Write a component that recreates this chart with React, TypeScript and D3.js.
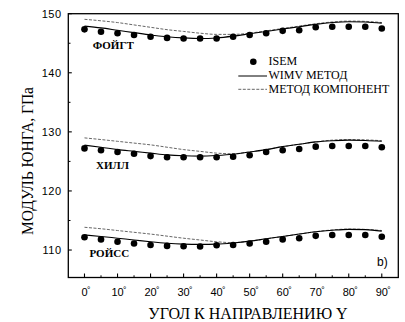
import React, { useEffect, useRef } from 'react';
import * as d3 from 'd3';

// angle to the Y direction, degrees
const angles = [0, 5, 10, 15, 20, 25, 30, 35, 40, 45, 50, 55, 60, 65, 70, 75, 80, 85, 90];

// ISEM points
const voigtIsem = [147.35, 146.95, 146.7, 146.4, 146.1, 145.9, 145.8, 145.8, 145.8, 146.1, 146.4, 146.7, 147.1, 147.2, 147.7, 147.8, 147.8, 147.8, 147.5];
const hillIsem = [127.2, 126.9, 126.6, 126.3, 125.9, 125.7, 125.7, 125.7, 125.7, 125.8, 126.05, 126.6, 126.9, 127.1, 127.5, 127.6, 127.6, 127.6, 127.4];
const reussIsem = [112.15, 111.8, 111.4, 111.1, 110.85, 110.7, 110.65, 110.6, 110.8, 110.85, 111.1, 111.4, 111.8, 112.0, 112.4, 112.55, 112.55, 112.55, 112.25];

// WIMV method (solid)
const voigtWimv = [147.9, 147.6, 147.2, 146.8, 146.4, 146.1, 145.9, 145.8, 145.9, 146.2, 146.6, 147.0, 147.4, 147.8, 148.2, 148.5, 148.65, 148.6, 148.4];
const hillWimv = [127.75, 127.4, 127.0, 126.7, 126.4, 126.1, 125.95, 125.9, 126.0, 126.2, 126.6, 127.0, 127.5, 127.9, 128.3, 128.5, 128.6, 128.55, 128.4];
const reussWimv = [112.55, 112.3, 112.0, 111.7, 111.4, 111.15, 111.0, 110.95, 111.0, 111.2, 111.5, 111.9, 112.3, 112.7, 113.1, 113.35, 113.5, 113.45, 113.2];

// component method (dashed)
const voigtComp = [149.05, 148.8, 148.5, 148.1, 147.7, 147.3, 147.0, 146.7, 146.5, 146.5, 146.7, 147.1, 147.5, 147.9, 148.3, 148.6, 148.75, 148.7, 148.5];
const hillComp = [128.98, 128.7, 128.4, 128.1, 127.8, 127.4, 127.0, 126.7, 126.4, 126.3, 126.6, 127.0, 127.5, 127.9, 128.3, 128.6, 128.7, 128.65, 128.5];
const reussComp = [113.85, 113.6, 113.3, 113.0, 112.7, 112.35, 112.0, 111.7, 111.4, 111.25, 111.5, 111.9, 112.3, 112.7, 113.1, 113.4, 113.55, 113.5, 113.3];

const yTicks = [110, 120, 130, 140, 150];
const yMinor = [115, 125, 135, 145];
const xTicks = [0, 10, 20, 30, 40, 50, 60, 70, 80, 90];
const xMinor = [5, 15, 25, 35, 45, 55, 65, 75, 85];

const bandLabels = [
  { text: 'ФОЙГТ', angle: 2.5, value: 144.0 },
  { text: 'ХИЛЛ', angle: 3.5, value: 123.7 },
  { text: 'РОЙСС', angle: 1.5, value: 108.9 },
];

const legendItems = ['ISEM', 'WIMV МЕТОД', 'МЕТОД КОМПОНЕНТ'];

const W = 405;
const H = 322;
const serif = '"Liberation Serif", "DejaVu Serif", serif';
const sans = '"Liberation Sans", Arial, sans-serif';

export default function App() {
  const svgRef = useRef<SVGSVGElement>(null);

  useEffect(() => {
    const svg = d3.select(svgRef.current);
    svg.selectAll('*').remove();

    const left = 68.3, right = 398.3, top = 13.7, bottom = 277.5;

    const x = d3.scaleLinear().domain([-4.9, 95]).range([left, right]);
    const y = d3.scaleLinear().domain([105.35, 150]).range([bottom, top]);

    svg.append('rect').attr('width', W).attr('height', H).attr('fill', '#fff');

    // frame
    svg.append('rect')
      .attr('x', left).attr('y', top)
      .attr('width', right - left).attr('height', bottom - top)
      .attr('fill', 'none').attr('stroke', '#000').attr('stroke-width', 1.3);

    // y ticks (inside)
    const g = svg.append('g');
    yTicks.forEach(v => {
      g.append('line').attr('x1', left).attr('x2', left + 3.5)
        .attr('y1', y(v)).attr('y2', y(v)).attr('stroke', '#000').attr('stroke-width', 1.1);
      g.append('text').attr('x', left - 6.5).attr('y', y(v) + 4)
        .attr('text-anchor', 'end').attr('font-family', sans).attr('font-size', 11)
        .attr('letter-spacing', 0.6)
        .text(v);
    });
    yMinor.forEach(v => {
      g.append('line').attr('x1', left).attr('x2', left + 2.2)
        .attr('y1', y(v)).attr('y2', y(v)).attr('stroke', '#000').attr('stroke-width', 1);
    });

    // x ticks (inside)
    xTicks.forEach(v => {
      g.append('line').attr('x1', x(v)).attr('x2', x(v))
        .attr('y1', bottom).attr('y2', bottom - 4).attr('stroke', '#000').attr('stroke-width', 1.1);
      const numW = String(v).length * 6.1;
      g.append('text').attr('x', x(v)).attr('y', 296)
        .attr('text-anchor', 'middle').attr('font-family', sans).attr('font-size', 11)
        .text(v);
      g.append('text').attr('x', x(v) + numW / 2 - 0.6).attr('y', 293)
        .attr('font-family', sans).attr('font-size', 8.5)
        .text('°');
    });
    xMinor.forEach(v => {
      g.append('line').attr('x1', x(v)).attr('x2', x(v))
        .attr('y1', bottom).attr('y2', bottom - 2.2).attr('stroke', '#000').attr('stroke-width', 1);
    });

    const line = d3.line<number>()
      .x((d, i) => x(angles[i]))
      .y(d => y(d))
      .curve(d3.curveMonotoneX);

    [voigtComp, hillComp, reussComp].forEach(s => {
      svg.append('path').attr('d', line(s)).attr('fill', 'none')
        .attr('stroke', '#555').attr('stroke-width', 0.9).attr('stroke-dasharray', '3,1.5');
    });
    [voigtWimv, hillWimv, reussWimv].forEach(s => {
      svg.append('path').attr('d', line(s)).attr('fill', 'none')
        .attr('stroke', '#000').attr('stroke-width', 1.1);
    });
    [voigtIsem, hillIsem, reussIsem].forEach(s => {
      svg.append('g').selectAll('circle').data(s).join('circle')
        .attr('cx', (d, i) => x(angles[i]))
        .attr('cy', d => y(d))
        .attr('r', 3.3)
        .attr('fill', '#000');
    });

    bandLabels.forEach(b => {
      svg.append('text').attr('x', x(b.angle)).attr('y', y(b.value))
        .attr('font-family', serif).attr('font-size', 11).attr('font-weight', 'bold')
        .text(b.text);
    });

    // legend
    const lg = svg.append('g');
    lg.append('circle').attr('cx', 253.3).attr('cy', 61.7).attr('r', 3.3).attr('fill', '#000');
    lg.append('line').attr('x1', 238.3).attr('x2', 267).attr('y1', 76).attr('y2', 76)
      .attr('stroke', '#000').attr('stroke-width', 1);
    lg.append('line').attr('x1', 238.3).attr('x2', 267).attr('y1', 89.3).attr('y2', 89.3)
      .attr('stroke', '#555').attr('stroke-width', 0.9).attr('stroke-dasharray', '3,1.5');
    legendItems.forEach((t, i) => {
      lg.append('text').attr('x', 268.5).attr('y', 65.3 + i * 13.8)
        .attr('font-family', serif).attr('font-size', 12)
        .text(t);
    });

    svg.append('text').attr('x', 377).attr('y', 266)
      .attr('font-family', sans).attr('font-size', 12)
      .text('b)');

    // axis titles
    svg.append('text').attr('x', 248).attr('y', 318.5)
      .attr('text-anchor', 'middle').attr('font-family', serif).attr('font-size', 16)
      .text('УГОЛ К НАПРАВЛЕНИЮ Y');

    svg.append('text')
      .attr('transform', 'translate(32.5,161) rotate(-90)')
      .attr('text-anchor', 'middle').attr('font-family', serif).attr('font-size', 17)
      .attr('textLength', 148).attr('lengthAdjust', 'spacingAndGlyphs')
      .text('МОДУЛЬ ЮНГА, ГПа');
  }, []);

  return (
    <div style={{ position: 'absolute', left: 0, top: 0 }}>
      <svg ref={svgRef} width={W} height={H} style={{ display: 'block' }}></svg>
    </div>
  );
}
